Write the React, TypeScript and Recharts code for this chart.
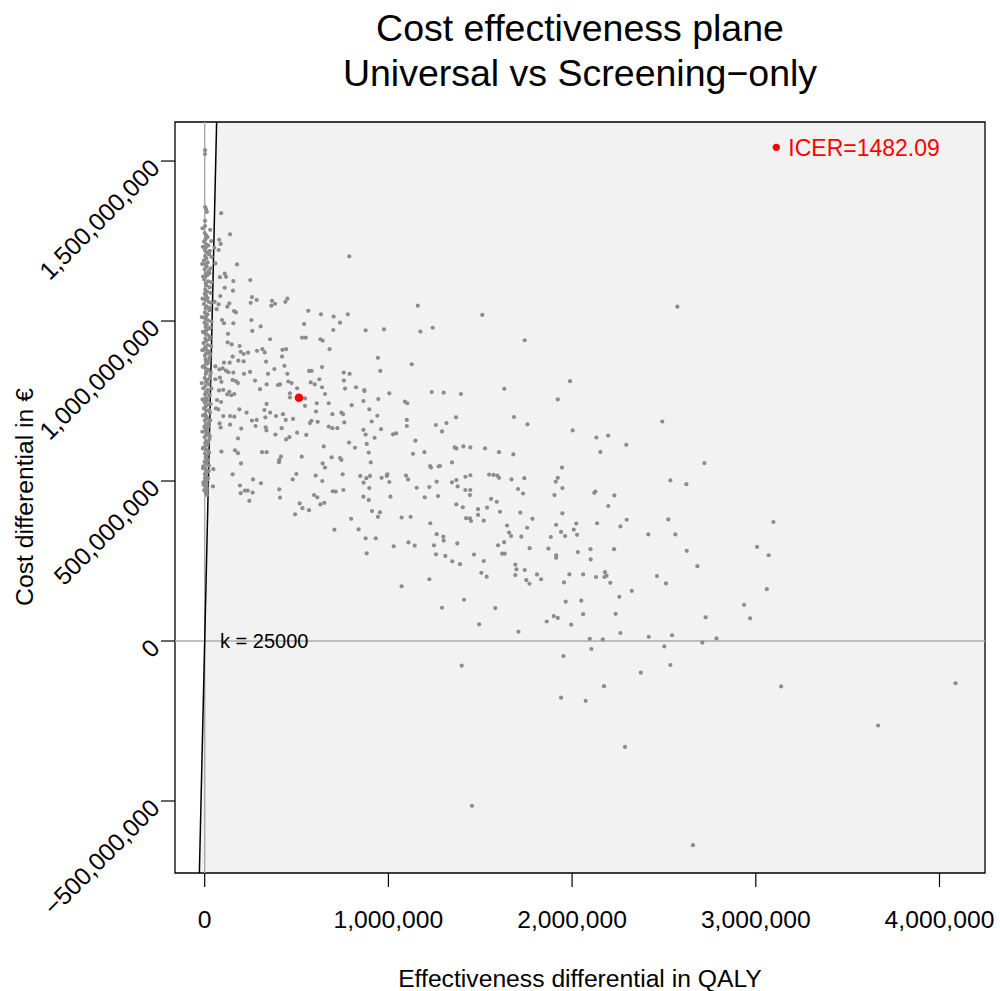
import {
  ComposedChart,
  Area,
  Scatter,
  XAxis,
  YAxis,
  ReferenceLine,
  ReferenceArea,
} from "recharts";

const titleLines = ["Cost effectiveness plane", "Universal vs Screening\u2212only"];
const xLabel = "Effectiveness differential in QALY";
const yLabel = "Cost differential in \u20ac";

const wtp = 25000;
const icerEffect = 513; // thousand QALY
const icerValue = 1482.09;

const xTicks = [0, 1000000, 2000000, 3000000, 4000000];
const yTicks = [-500000000, 0, 500000000, 1000000000, 1500000000];
const xDomain = [-161700, 4247700];
const yDomain = [-725000000, 1622000000];

// simulations: [effect in thousand QALY, cost in million euro]
const columnSims: [number, number][] = [
  [2, 1534], [2, 1522], [2, 1356], [7, 1350], [12, 1341], [2, 1313], [2, 1297],
  [0, 1275], [8, 1268], [15, 1262], [4, 1255], [-3, 1248], [10, 1240], [20, 1236],
  [6, 1229], [1, 1222], [13, 1215], [24, 1208], [3, 1203], [9, 1196], [-5, 1189],
  [17, 1183], [5, 1176], [11, 1170], [0, 1162], [22, 1156], [7, 1149], [14, 1143],
  [2, 1137], [-2, 1130], [19, 1124], [6, 1117], [10, 1111], [27, 1105], [3, 1098],
  [13, 1092], [0, 1085], [8, 1079], [16, 1072], [4, 1066], [21, 1060], [-4, 1053],
  [11, 1046], [6, 1040], [25, 1034], [1, 1027], [15, 1021], [9, 1015], [3, 1008],
  [18, 1002], [-1, 995], [12, 989], [5, 982], [23, 976], [8, 970], [0, 963],
  [14, 957], [28, 951], [4, 944], [10, 938], [-6, 931], [17, 925], [2, 918],
  [7, 912], [20, 905], [12, 899], [1, 892], [26, 886], [5, 880], [9, 873],
  [15, 867], [-3, 860], [3, 854], [19, 848], [11, 841], [6, 835], [30, 829],
  [0, 822], [14, 816], [8, 810], [22, 803], [4, 797], [-8, 790], [16, 784],
  [10, 777], [2, 771], [24, 765], [7, 758], [13, 752], [0, 746], [18, 739],
  [5, 733], [-4, 727], [11, 720], [29, 714], [3, 708], [9, 701], [15, 695],
  [1, 689], [21, 682], [6, 676], [-2, 669], [12, 663], [4, 657], [17, 650],
  [8, 644], [0, 637], [26, 631], [10, 625], [3, 618], [14, 612], [-5, 605],
  [7, 599], [20, 593], [1, 586], [11, 580], [5, 573], [16, 567], [-1, 560],
  [9, 554], [23, 548], [2, 541], [6, 535], [13, 528], [0, 522], [8, 515],
  [18, 509], [3, 503], [-7, 496], [10, 490], [4, 483], [15, 477], [1, 470],
  [6, 463], [12, 456], [-3, 472], [2, 510], [-9, 540],
  [-12, 1290], [30, 1285], [35, 1250], [-10, 1232], [28, 1219], [38, 1200], [-14, 1178],
  [33, 1165], [26, 1150], [-9, 1139], [36, 1121], [31, 1088], [-12, 1070], [34, 1057],
  [29, 1041], [-15, 1012], [37, 998], [32, 980], [-10, 966], [27, 943], [35, 921],
  [-13, 909], [31, 896], [24, 877], [-11, 857], [33, 838], [28, 820], [-16, 806],
  [36, 789], [27, 770], [-12, 755], [32, 741], [25, 722], [-9, 705], [30, 690],
  [22, 671], [-13, 654], [27, 640], [19, 620], [-10, 602], [24, 588], [17, 563],
  [-8, 546], [21, 531], [14, 503], [-6, 488], [11, 466],
];

const spreadSims: [number, number][] = [
  [90, 1337], [138, 1271], [79, 1254], [87, 1241], [76, 1222], [52, 1229], [58, 1180],
  [176, 1177], [109, 1148], [116, 1138], [83, 1137], [156, 1125], [248, 1128], [109, 1104],
  [154, 1095], [85, 1078], [54, 1060], [76, 1052], [134, 1055], [123, 1045], [160, 1031],
  [170, 1027], [257, 1075], [283, 1066], [250, 1057], [366, 1063], [383, 1054], [363, 1048],
  [450, 1070], [439, 1060], [564, 1032], [633, 1021], [787, 1202], [779, 1021],
  [1160, 1048], [1511, 1019], [876, 971], [976, 974], [1174, 967], [1241, 979], [1742, 940],
  [943, 885], [956, 844], [1127, 865], [869, 781], [1005, 774], [945, 756], [1236, 778],
  [1301, 776], [1395, 772], [1631, 788], [1989, 812], [1922, 755], [2573, 1045],
  [702, 1014], [737, 995], [541, 991], [700, 972], [65, 1037], [94, 1003], [105, 993],
  [156, 993], [254, 1003], [259, 969], [305, 983], [127, 960], [125, 933], [147, 927],
  [190, 922], [356, 943], [530, 948], [550, 948], [630, 943], [642, 939], [680, 912],
  [196, 904], [212, 897], [236, 901], [285, 907], [314, 912], [327, 902], [423, 910],
  [443, 912], [421, 889], [105, 870], [136, 870], [183, 876], [152, 889], [212, 874],
  [334, 873], [434, 860], [379, 850], [345, 835], [214, 835], [247, 841], [274, 814],
  [410, 802], [399, 800], [450, 835], [455, 811], [473, 806], [503, 790], [301, 787],
  [337, 802], [568, 844], [582, 844], [639, 856], [577, 808], [599, 802], [624, 818],
  [639, 793], [655, 772], [757, 839], [789, 835], [758, 814], [764, 789], [824, 793],
  [869, 784], [58, 858], [80, 849], [98, 852], [116, 845], [129, 840], [156, 839],
  [58, 818], [91, 810], [83, 823], [152, 816], [170, 812], [181, 806], [78, 783],
  [101, 785], [123, 771], [145, 768], [161, 772], [134, 779], [464, 774], [464, 761],
  [546, 758], [67, 753], [89, 747], [61, 727], [74, 724], [101, 703], [138, 703],
  [161, 701], [189, 724], [228, 714], [325, 722], [337, 741], [330, 699], [356, 714],
  [388, 703], [426, 709], [441, 691], [481, 694], [546, 735], [606, 717], [610, 743],
  [675, 743], [695, 709], [744, 714], [753, 709], [800, 737], [864, 750], [81, 680],
  [87, 667], [138, 676], [199, 664], [257, 689], [283, 691], [277, 672], [332, 668],
  [336, 658], [385, 645], [419, 665], [443, 630], [461, 637], [503, 651], [553, 644],
  [581, 688], [573, 681], [615, 685], [675, 670], [695, 665], [722, 665], [760, 683],
  [786, 620], [864, 660], [876, 645], [181, 633], [91, 592], [165, 596], [181, 587],
  [198, 555], [312, 590], [337, 590], [406, 566], [404, 559], [415, 576], [528, 576],
  [648, 608], [691, 574], [737, 572], [744, 566], [642, 555], [655, 542], [818, 604],
  [882, 616], [893, 589], [47, 537], [152, 521], [192, 486], [263, 505], [306, 493],
  [234, 470], [479, 505], [499, 522], [604, 517], [640, 500], [751, 521], [847, 516],
  [865, 495], [880, 509], [45, 483], [196, 462], [219, 470], [261, 464], [406, 474],
  [595, 456], [613, 449], [697, 468], [713, 467], [755, 472],
  [243, 438], [410, 448], [492, 396], [517, 430], [532, 415], [568, 409], [630, 427],
  [651, 432], [706, 348], [797, 382], [838, 349], [1292, 104], [1412, 129], [1582, 103],
  [1494, 52], [1708, 29], [1862, 61], [1900, 78], [1922, 72], [1995, 51], [1399, -77],
  [1953, -47], [1940, -177], [2074, -187], [1455, -515],
  [1090, 748], [1103, 743], [896, 724], [940, 704], [909, 686], [925, 635], [960, 662],
  [1025, 646], [1042, 649], [1100, 691], [1100, 672], [1147, 626], [1258, 675], [1292, 655],
  [1316, 681], [1368, 699], [1684, 700], [1757, 677], [1134, 585], [1196, 590], [904, 558],
  [1346, 558], [1361, 605], [1370, 602], [1408, 608], [1446, 605], [1526, 602], [1602, 590],
  [1680, 583], [1227, 547], [1232, 542], [1274, 546], [1281, 547], [900, 516], [896, 478],
  [864, 451], [893, 441], [963, 510], [991, 516], [994, 521], [1005, 497], [1011, 451],
  [1096, 517], [1107, 505], [1154, 479], [1198, 449], [1223, 481], [1263, 498], [1270, 453],
  [1346, 496], [1370, 503], [1377, 483], [1419, 513], [1446, 518], [1419, 472], [1446, 472],
  [1444, 456], [1370, 427], [1405, 418], [1548, 520], [1572, 519], [1593, 517], [1602, 510],
  [1670, 505], [1740, 509], [1706, 475], [1733, 461], [1559, 444], [1590, 435], [1537, 417],
  [1488, 412], [1488, 394], [1608, 404], [1423, 384], [1444, 383], [1450, 375], [1519, 376],
  [1718, 401], [1784, 382], [1922, 510], [1911, 498], [1904, 456], [1913, 363], [1646, 361],
  [1657, 339], [1668, 328], [1630, 309], [1597, 299], [1619, 273], [1633, 273], [1724, 326],
  [1755, 354], [1769, 290], [1691, 239], [1697, 224], [1691, 206], [1742, 222], [1751, 190],
  [1768, 179], [1809, 208], [1831, 193], [1871, 289], [1913, 268], [1913, 260], [1884, 325],
  [1466, 270], [1519, 250], [1506, 213], [1535, 201], [1390, 240], [1348, 249], [1310, 266],
  [1259, 271], [1248, 299], [1263, 334], [1299, 326], [1301, 314], [1375, 305], [1223, 193],
  [1072, 171], [1109, 308], [1143, 298], [1029, 296], [1072, 386], [1121, 388], [1228, 368],
  [882, 274], [876, 321], [931, 321], [911, 406], [954, 402], [943, 388],
  [2491, 686], [2003, 658], [2132, 636], [2196, 642], [2295, 613], [2154, 591], [2720, 556],
  [1945, 542], [1947, 478], [2535, 502], [2622, 490], [2121, 463], [2127, 467], [2230, 455],
  [2197, 422], [1947, 399], [2023, 367], [2009, 348], [2027, 332], [1940, 341], [1962, 328],
  [2136, 368], [2297, 379], [2263, 358], [2524, 380], [2415, 333], [2562, 333], [3096, 372],
  [3007, 294], [3070, 268], [2031, 278], [2100, 287], [2228, 287], [2101, 255], [2624, 282],
  [2682, 234], [1985, 208], [2060, 208], [2130, 200], [2176, 200], [2179, 215], [2188, 204],
  [2462, 203], [2511, 180], [1956, 183], [2208, 182], [2325, 157], [2257, 138], [1965, 123],
  [2050, 126], [2060, 84], [2237, 85], [3060, 162], [2936, 113], [2969, 71], [2727, 74],
  [2263, 25], [2417, 13], [2544, 18], [2786, 8], [2096, 7], [2167, 5], [2709, -5],
  [2105, -25], [2502, -17], [2535, -75], [2374, -99], [2174, -141], [3138, -142], [4087, -132],
  [3666, -264], [2288, -331], [2658, -638],
];

const sims = [...columnSims, ...spreadSims].map(([e, c]) => ({ x: e * 1000, y: c * 1e6 }));
const icerPoint = [{ x: icerEffect * 1000, y: icerEffect * 1000 * icerValue }];

// sustainability area: right of the willingness-to-pay line
const shade = [
  { x: yDomain[0] / wtp, y: yDomain[0] },
  { x: yDomain[1] / wtp, y: yDomain[1] },
  { x: xDomain[1], y: yDomain[1] },
];

const font = "'Liberation Sans', Arial, Helvetica, sans-serif";
const fmt = (v: number) => v.toLocaleString("en-US").replace("-", "\u2212");

const XTick = (props: any) => {
  const { x, y, payload } = props;
  return (
    <text x={x} y={y + 39} textAnchor="middle" fontSize={24.7} fontFamily={font} fill="#000">
      {fmt(payload.value)}
    </text>
  );
};

const YTick = (props: any) => {
  const { x, y, payload } = props;
  const tx = x + 2.3;
  const ty = y + 8.5;
  return (
    <text
      x={tx}
      y={ty}
      transform={`rotate(-45 ${tx} ${ty})`}
      textAnchor="end"
      fontSize={24.7}
      fontFamily={font}
      fill="#000"
    >
      {fmt(payload.value)}
    </text>
  );
};

const greyDot = (p: any) => <circle cx={p.cx} cy={p.cy} r={2.1} fill="#8C8C8C" />;
const redDot = (p: any) => <circle cx={p.cx} cy={p.cy} r={4.3} fill="#FF0000" />;

export default function App() {
  return (
    <div style={{ position: "absolute", left: 0, top: 0, width: 1000, height: 991, background: "#fff" }}>
      <ComposedChart
        width={1000}
        height={991}
        data={shade}
        margin={{ top: 122, right: 15, bottom: 0, left: 0 }}
      >
        <XAxis
          type="number"
          dataKey="x"
          domain={xDomain}
          allowDataOverflow
          ticks={xTicks}
          tickSize={14}
          height={118}
          axisLine={false}
          tickLine={{ stroke: "#000", strokeWidth: 1.2 }}
          tick={<XTick />}
          interval={0}
        />
        <YAxis
          type="number"
          dataKey="y"
          domain={yDomain}
          allowDataOverflow
          ticks={yTicks}
          tickSize={14}
          width={175}
          axisLine={false}
          tickLine={{ stroke: "#000", strokeWidth: 1.2 }}
          tick={<YTick />}
          interval={0}
        />
        <Area
          type="linear"
          dataKey="y"
          baseValue={yDomain[0]}
          fill="#F2F2F2"
          fillOpacity={1}
          stroke="none"
          dot={false}
          activeDot={false}
          isAnimationActive={false}
        />
        <ReferenceLine x={0} stroke="#ABABAB" strokeWidth={1.5} />
        <ReferenceLine y={0} stroke="#ABABAB" strokeWidth={1.5} />
        <ReferenceLine
          segment={[
            { x: yDomain[0] / wtp, y: yDomain[0] },
            { x: yDomain[1] / wtp, y: yDomain[1] },
          ]}
          stroke="#000"
          strokeWidth={1.5}
          ifOverflow="visible"
        />
        <Scatter data={sims} shape={greyDot} isAnimationActive={false} />
        <Scatter data={icerPoint} shape={redDot} isAnimationActive={false} />
        <ReferenceArea
          x1={xDomain[0]}
          x2={xDomain[1]}
          y1={yDomain[0]}
          y2={yDomain[1]}
          fill="none"
          stroke="#000"
          strokeWidth={1.3}
          ifOverflow="visible"
        />
      </ComposedChart>
      <svg
        width={1000}
        height={991}
        style={{ position: "absolute", left: 0, top: 0, pointerEvents: "none" }}
        fontFamily={font}
      >
        <text x={580} y={41} textAnchor="middle" fontSize={37.5}>
          {titleLines[0]}
        </text>
        <text x={580} y={86} textAnchor="middle" fontSize={37.5}>
          {titleLines[1]}
        </text>
        <text x={580} y={987} textAnchor="middle" fontSize={24.7}>
          {xLabel}
        </text>
        <text x={33} y={497} textAnchor="middle" fontSize={24.7} transform="rotate(-90 33 497)">
          {yLabel}
        </text>
        <text x={220} y={647.5} fontSize={20}>
          {"k = 25000"}
        </text>
        <circle cx={776.3} cy={147.3} r={3.6} fill="#FF0000" />
        <text x={788.3} y={156.3} fontSize={23} fill="#FF0000">
          {"ICER=" + icerValue}
        </text>
      </svg>
    </div>
  );
}
